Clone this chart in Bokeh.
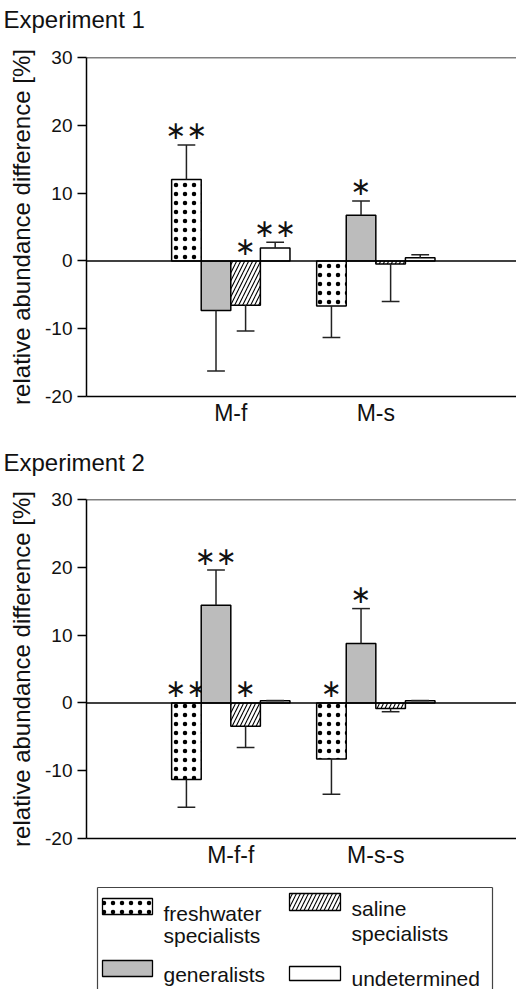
from bokeh.plotting import figure
from bokeh.models import Range1d, FixedTicker, Span, Title
from bokeh.layouts import column
from bokeh.embed import file_html
from bokeh.resources import INLINE
from bokeh.core.properties import value

FONT = "Liberation Sans"

# ---------------- data ----------------
series_names = ["freshwater specialists", "generalists", "saline specialists", "undetermined"]

exp1_categories = ["M-f", "M-s"]
exp1_freshwater = [12.0, -6.65]
exp1_generalists = [-7.3, 6.75]
exp1_saline = [-6.55, -0.45]
exp1_undetermined = [1.9, 0.45]
exp1_freshwater_err = [5.1, 4.65]
exp1_generalists_err = [8.95, 2.1]
exp1_saline_err = [3.8, 5.55]
exp1_undetermined_err = [0.85, 0.45]
exp1_freshwater_sig = ["**", ""]
exp1_generalists_sig = ["", "*"]
exp1_saline_sig = ["*", ""]
exp1_undetermined_sig = ["**", ""]

exp2_categories = ["M-f-f", "M-s-s"]
exp2_freshwater = [-11.3, -8.26]
exp2_generalists = [14.4, 8.76]
exp2_saline = [-3.44, -0.83]
exp2_undetermined = [0.3, 0.3]
exp2_freshwater_err = [4.1, 5.2]
exp2_generalists_err = [5.2, 5.15]
exp2_saline_err = [3.15, 0.47]
exp2_undetermined_err = [0.05, 0.05]
exp2_freshwater_sig = ["**", "*"]
exp2_generalists_sig = ["**", "*"]
exp2_saline_sig = ["*", ""]
exp2_undetermined_sig = ["", ""]

y_ticks = [-20, -10, 0, 10, 20, 30]
y_tick_labels = ["-20", "-10", "0", "10", "20", "30"]
y_label = "relative abundance difference [%]"

# ---------------- styles ----------------
styles = {
    "freshwater specialists": dict(fill_color="white", hatch_pattern="dot", hatch_scale=9,
                                   hatch_weight=0.5, hatch_color="black"),
    "generalists": dict(fill_color="#bcbcbc"),
    "saline specialists": dict(fill_color="white", hatch_pattern="right_diagonal_line",
                               hatch_scale=8, hatch_weight=1.1, hatch_color="black"),
    "undetermined": dict(fill_color="white"),
}

BAR_W = 0.204
LEFT = 86
WIDTH = 516
X0, X1 = -0.995, 1.970
Y0, Y1 = -20, 30


def make_panel(title, cats, vals, errs, sigs, height, top_border, bottom_border, title_lift):
    p = figure(width=WIDTH, height=height,
               x_range=Range1d(X0, X1), y_range=Range1d(Y0, Y1),
               toolbar_location=None, output_backend="svg",
               min_border_left=LEFT, min_border_right=0,
               min_border_top=top_border, min_border_bottom=bottom_border,
               background_fill_color="white", border_fill_color="white")
    p.outline_line_color = None
    p.xgrid.visible = False
    p.ygrid.visible = False

    # spacer between the frame and the panel title, then the title itself
    p.add_layout(Title(text=" ", text_font_size="1px", standoff=title_lift), "above")
    p.add_layout(Title(text=title, align="left", offset=3 - LEFT, standoff=0,
                       vertical_align="bottom",
                       text_font=FONT, text_font_size="24px",
                       text_font_style="normal", text_color="#111111"), "above")

    for i, name in enumerate(series_names):
        xs = [g + (i - 1.5) * BAR_W for g in range(len(cats))]
        v = vals[i]
        e = errs[i]
        p.vbar(x=xs, top=v, bottom=0, width=BAR_W, line_color="black",
               line_width=1.5, **styles[name])
        ends = [vv + (ee if vv >= 0 else -ee) for vv, ee in zip(v, e)]
        p.segment(x0=xs, y0=v, x1=xs, y1=ends, line_color="#222222", line_width=1.5)
        p.segment(x0=[x - BAR_W * 0.3 for x in xs], y0=ends,
                  x1=[x + BAR_W * 0.3 for x in xs], y1=ends,
                  line_color="#222222", line_width=1.5)
        anchors = [max(en, 0) if vv >= 0 else 0 for vv, en in zip(v, ends)]
        texts = [s.replace("*", "\u2217") for s in sigs[i]]
        p.text(x=xs, y=anchors, text=texts, y_offset=-14,
               text_align="center", text_baseline="middle",
               text_font=value("DejaVu Sans"), text_font_size="25px",
               text_color="#111111")

    p.add_layout(Span(location=0, dimension="width", line_color="black", line_width=1.5))
    p.add_layout(Span(location=Y1, dimension="width", line_color="black", line_width=1.5))

    ya = p.yaxis[0]
    ya.ticker = FixedTicker(ticks=y_ticks)
    ya.major_label_overrides = dict(zip(y_ticks, y_tick_labels))
    ya.axis_label = y_label
    ya.axis_label_text_font = FONT
    ya.axis_label_text_font_size = "24px"
    ya.axis_label_text_font_style = "normal"
    ya.axis_label_text_color = "#111111"
    ya.axis_label_standoff = 7
    ya.major_label_text_font = FONT
    ya.major_label_text_font_size = "19px"
    ya.major_label_text_color = "#111111"
    ya.major_label_standoff = 5
    ya.major_tick_out = 9
    ya.major_tick_in = 0
    ya.major_tick_line_width = 1.5
    ya.minor_tick_line_color = None
    ya.axis_line_width = 1.5
    ya.axis_line_color = "black"

    xa = p.xaxis[0]
    xa.ticker = FixedTicker(ticks=list(range(len(cats))))
    xa.major_label_overrides = {i: c for i, c in enumerate(cats)}
    xa.major_label_text_font = FONT
    xa.major_label_text_font_size = "23px"
    xa.major_label_text_color = "#111111"
    xa.major_label_standoff = 3
    xa.major_tick_line_color = None
    xa.major_tick_out = 0
    xa.minor_tick_line_color = None
    xa.axis_line_width = 1.5
    xa.axis_line_color = "black"
    return p


p1 = make_panel("Experiment 1", exp1_categories,
                [exp1_freshwater, exp1_generalists, exp1_saline, exp1_undetermined],
                [exp1_freshwater_err, exp1_generalists_err, exp1_saline_err, exp1_undetermined_err],
                [exp1_freshwater_sig, exp1_generalists_sig, exp1_saline_sig, exp1_undetermined_sig],
                height=440, top_border=57, bottom_border=44, title_lift=22)
p2 = make_panel("Experiment 2", exp2_categories,
                [exp2_freshwater, exp2_generalists, exp2_saline, exp2_undetermined],
                [exp2_freshwater_err, exp2_generalists_err, exp2_saline_err, exp2_undetermined_err],
                [exp2_freshwater_sig, exp2_generalists_sig, exp2_saline_sig, exp2_undetermined_sig],
                height=440, top_border=59, bottom_border=42, title_lift=21)

# ---------------- legend ----------------
# Frame aligned with the panels above: left border 86 px, so x data = page pixels.
leg = figure(width=WIDTH, height=109, x_range=Range1d(LEFT, WIDTH), y_range=Range1d(109, 0),
             toolbar_location=None, output_backend="svg",
             min_border_left=LEFT, min_border_right=0, min_border_top=0, min_border_bottom=0,
             background_fill_color="white", border_fill_color="white")
leg.axis.visible = False
leg.xgrid.visible = False
leg.ygrid.visible = False
leg.outline_line_color = None

leg.segment(x0=[97, 97, 492], y0=[7, 7, 7], x1=[492, 97, 492], y1=[7, 140, 140],
            line_color="#444444", line_width=1.2)

legend_entries = [
    # name, swatch box (l, r, t, b), text x, text lines with baselines
    ("freshwater specialists", (102, 152, 18, 34), 163, [("freshwater", 33), ("specialists", 55)]),
    ("saline specialists", (289, 340, 13, 30), 351, [("saline", 28), ("specialists", 53)]),
    ("generalists", (102, 152, 80, 96), 163, [("generalists", 94)]),
    ("undetermined", (289, 340, 86, 100), 351, [("undetermined", 98)]),
]
for name, (l, r, t, b), tx, lines in legend_entries:
    leg.quad(left=[l], right=[r], top=[t], bottom=[b], line_color="black",
             line_width=1.3, **styles[name])
    leg.text(x=[tx] * len(lines), y=[yy for _, yy in lines], text=[s for s, _ in lines],
             text_align="left", text_baseline="alphabetic",
             text_font=value(FONT), text_font_size="21px", text_color="#111111")

layout = column(p1, p2, leg, spacing=0)
open("out.html", "w").write(file_html(layout, INLINE))
